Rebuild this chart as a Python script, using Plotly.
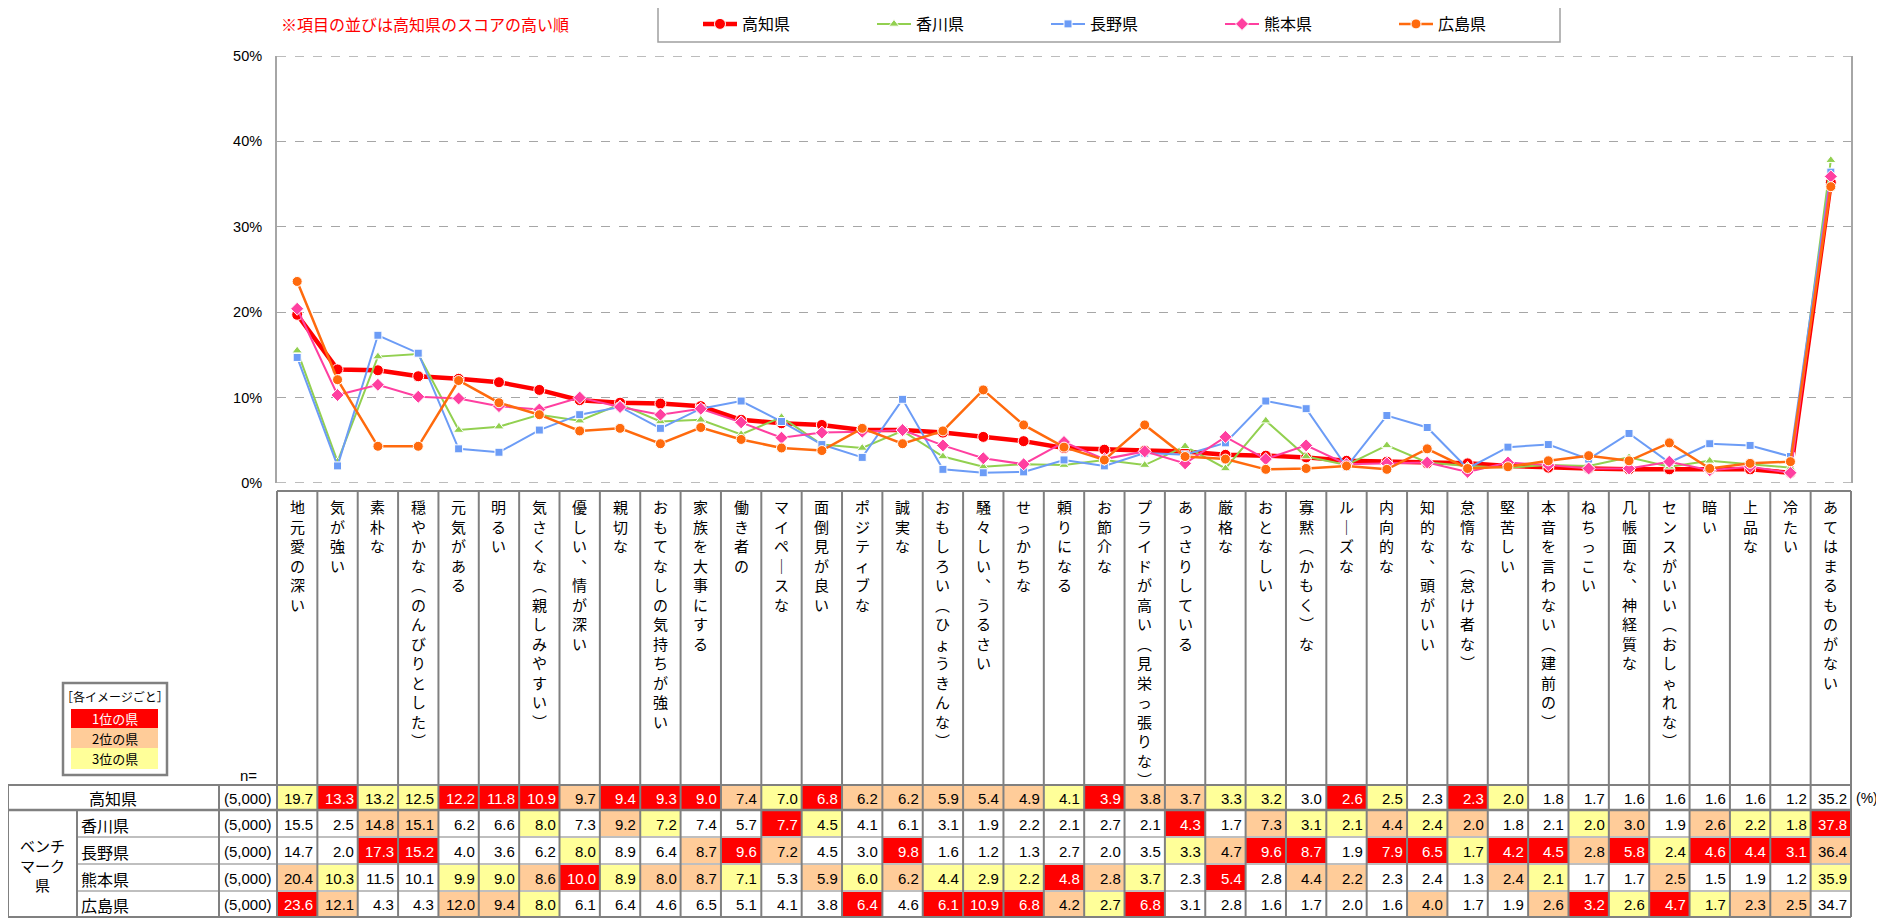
import plotly.graph_objects as go

# ---------------- data ----------------
categories = [
    "地元愛の深い", "気が強い", "素朴な", "穏やかな（のんびりとした）", "元気がある", "明るい",
    "気さくな（親しみやすい）", "優しい、情が深い", "親切な", "おもてなしの気持ちが強い",
    "家族を大事にする", "働き者の", "マイペースな", "面倒見が良い", "ポジティブな", "誠実な",
    "おもしろい（ひょうきんな）", "騒々しい、うるさい", "せっかちな", "頼りになる", "お節介な",
    "プライドが高い（見栄っ張りな）", "あっさりしている", "厳格な", "おとなしい", "寡黙（かもく）な",
    "ルーズな", "内向的な", "知的な、頭がいい", "怠惰な（怠け者な）", "堅苦しい",
    "本音を言わない（建前の）", "ねちっこい", "几帳面な、神経質な", "センスがいい（おしゃれな）",
    "暗い", "上品な", "冷たい", "あてはまるものがない",
]

kochi = [19.7, 13.3, 13.2, 12.5, 12.2, 11.8, 10.9, 9.7, 9.4, 9.3, 9.0, 7.4, 7.0, 6.8, 6.2, 6.2, 5.9,
         5.4, 4.9, 4.1, 3.9, 3.8, 3.7, 3.3, 3.2, 3.0, 2.6, 2.5, 2.3, 2.3, 2.0, 1.8, 1.7, 1.6, 1.6,
         1.6, 1.6, 1.2, 35.2]
kagawa = [15.5, 2.5, 14.8, 15.1, 6.2, 6.6, 8.0, 7.3, 9.2, 7.2, 7.4, 5.7, 7.7, 4.5, 4.1, 6.1, 3.1,
          1.9, 2.2, 2.1, 2.7, 2.1, 4.3, 1.7, 7.3, 3.1, 2.1, 4.4, 2.4, 2.0, 1.8, 2.1, 2.0, 3.0, 1.9,
          2.6, 2.2, 1.8, 37.8]
nagano = [14.7, 2.0, 17.3, 15.2, 4.0, 3.6, 6.2, 8.0, 8.9, 6.4, 8.7, 9.6, 7.2, 4.5, 3.0, 9.8, 1.6,
          1.2, 1.3, 2.7, 2.0, 3.5, 3.3, 4.7, 9.6, 8.7, 1.9, 7.9, 6.5, 1.7, 4.2, 4.5, 2.8, 5.8, 2.4,
          4.6, 4.4, 3.1, 36.4]
kumamoto = [20.4, 10.3, 11.5, 10.1, 9.9, 9.0, 8.6, 10.0, 8.9, 8.0, 8.7, 7.1, 5.3, 5.9, 6.0, 6.2, 4.4,
            2.9, 2.2, 4.8, 2.8, 3.7, 2.3, 5.4, 2.8, 4.4, 2.2, 2.3, 2.4, 1.3, 2.4, 2.1, 1.7, 1.7, 2.5,
            1.5, 1.9, 1.2, 35.9]
hiroshima = [23.6, 12.1, 4.3, 4.3, 12.0, 9.4, 8.0, 6.1, 6.4, 4.6, 6.5, 5.1, 4.1, 3.8, 6.4, 4.6, 6.1,
             10.9, 6.8, 4.2, 2.7, 6.8, 3.1, 2.8, 1.6, 1.7, 2.0, 1.6, 4.0, 1.7, 1.9, 2.6, 3.2, 2.6, 4.7,
             1.7, 2.3, 2.5, 34.7]

# rank within each item (1 = 1位, 2 = 2位, 3 = 3位, 0 = none), as highlighted in the table
rank_kochi = [3, 1, 3, 3, 1, 1, 1, 2, 1, 1, 1, 2, 3, 1, 2, 2, 2, 2, 2, 3, 1, 2, 2, 3, 3, 0, 1, 3, 0, 1,
              3, 0, 0, 0, 0, 0, 0, 0, 0]
rank_kagawa = [0, 0, 2, 2, 0, 0, 3, 0, 2, 3, 0, 0, 1, 3, 0, 0, 0, 0, 0, 0, 0, 0, 1, 0, 2, 3, 3, 2, 3, 2,
               0, 0, 3, 2, 0, 2, 3, 3, 1]
rank_nagano = [0, 0, 1, 1, 0, 0, 0, 3, 0, 0, 2, 1, 2, 0, 0, 1, 0, 0, 0, 0, 0, 0, 3, 2, 1, 1, 0, 1, 1, 3,
               1, 1, 2, 1, 3, 1, 1, 1, 2]
rank_kumamoto = [2, 3, 0, 0, 3, 3, 2, 1, 3, 2, 2, 3, 0, 2, 3, 2, 3, 3, 3, 1, 2, 3, 0, 1, 0, 2, 2, 0, 0, 0,
                 2, 3, 0, 0, 2, 0, 0, 0, 3]
rank_hiroshima = [1, 2, 0, 0, 2, 2, 3, 0, 0, 0, 0, 0, 0, 0, 1, 0, 1, 1, 1, 2, 3, 1, 0, 0, 0, 0, 0, 0, 2, 0,
                  0, 2, 1, 3, 1, 3, 2, 2, 0]

series_names = ["高知県", "香川県", "長野県", "熊本県", "広島県"]
sample_sizes = ["(5,000)", "(5,000)", "(5,000)", "(5,000)", "(5,000)"]
y_ticks = [0, 10, 20, 30, 40, 50]
y_tick_text = ["0%", "10%", "20%", "30%", "40%", "50%"]
rank_labels = ["1位の県", "2位の県", "3位の県"]

series_values = [kochi, kagawa, nagano, kumamoto, hiroshima]
series_ranks = [rank_kochi, rank_kagawa, rank_nagano, rank_kumamoto, rank_hiroshima]

# ---------------- layout helpers ----------------
# the page body adds an 8px margin, so the figure is 8px smaller and everything is
# positioned in reference-pixel coordinates converted to paper fractions
OFF = 8
W, H = 1884 - OFF, 923 - OFF
PL, PR, PT, PB = 277, 1851, 56, 483


def px(x):
    return (x - PL) / (PR - PL)


def py(y):
    return (PB - y) / (PB - PT)


JP = "Noto Sans CJK JP"
MIX = "Liberation Sans, Arial, Noto Sans CJK JP"
DARK = "#808080"
LIGHT = "#BFBFBF"
RANK_FILL = {1: "#FF0000", 2: "#FFCC99", 3: "#FFFF99"}

styles = [
    dict(color="#FF0000", width=4.5, symbol="circle", size=11),
    dict(color="#92D050", width=2, symbol="triangle-up", size=9),
    dict(color="#6C9CF6", width=2, symbol="square", size=8),
    dict(color="#FF3FA0", width=2, symbol="diamond", size=10),
    dict(color="#FF6A0D", width=2.5, symbol="circle", size=10),
]

fig = go.Figure()
for name, vals, st in zip(series_names, series_values, styles):
    fig.add_trace(go.Scatter(
        x=categories, y=vals, name=name, mode="lines+markers",
        line=dict(color=st["color"], width=st["width"]),
        marker=dict(symbol=st["symbol"], size=st["size"], color=st["color"],
                    line=dict(color="white", width=1)),
        cliponaxis=False,
    ))

shapes = []
annotations = []

# top and bottom dashed frame lines of the plot
for yv in (y_ticks[0], y_ticks[-1]):
    shapes.append(dict(type="line", xref="paper", yref="y", x0=0, x1=1, y0=yv, y1=yv, layer="below",
                       line=dict(color="#A6A6A6", width=1.5, dash="dash")))

# note text
annotations.append(dict(xref="paper", yref="paper", x=px(279), y=py(24), xanchor="left", yanchor="middle",
                        text="※項目の並びは高知県のスコアの高い順", showarrow=False,
                        font=dict(family=JP, size=16, color="#FF0000")))
# legend frame
shapes.append(dict(type="rect", xref="paper", yref="paper", x0=px(658), x1=px(1560), y0=py(6), y1=py(42),
                   line=dict(color="#A0A0A0", width=1.5)))

# vertical category labels
VMAP = {"（": "︵", "）": "︶", "、": "︑", "ー": "｜"}


def vert(s):
    return "<br>".join(VMAP.get(c, c) for c in s)


for i, c in enumerate(categories):
    annotations.append(dict(xref="x", yref="paper", x=i, y=py(494), xanchor="center", yanchor="top",
                            text=vert(c), showarrow=False,
                            font=dict(family=JP, size=15, color="#000000")))

# table geometry (pixel rows)
row_bounds = [785, 810, 837, 864, 891, 917]
LABEL_TOP = 491

# colored cells
for r, ranks in enumerate(series_ranks):
    for i, rk in enumerate(ranks):
        if rk:
            shapes.append(dict(type="rect", xref="x", yref="paper", x0=i - 0.5, x1=i + 0.5,
                               y0=py(row_bounds[r]), y1=py(row_bounds[r + 1]),
                               fillcolor=RANK_FILL[rk], line=dict(width=0)))

# cell values
for r, (vals, ranks) in enumerate(zip(series_values, series_ranks)):
    yc = py((row_bounds[r] + row_bounds[r + 1]) / 2 + 0.5)
    for i, v in enumerate(vals):
        annotations.append(dict(xref="x", yref="paper", x=i + 0.5, y=yc, xanchor="right", yanchor="middle",
                                xshift=-2, text=f"{v:.1f}", showarrow=False,
                                font=dict(family=MIX, size=15,
                                          color="#FFFFFF" if ranks[i] == 1 else "#000000")))

# lines: horizontal
shapes.append(dict(type="line", xref="paper", yref="paper", x0=0, x1=1, y0=py(LABEL_TOP), y1=py(LABEL_TOP),
                   line=dict(color=DARK, width=2)))
shapes.append(dict(type="line", xref="paper", yref="paper", x0=px(8), x1=1, y0=py(785), y1=py(785),
                   line=dict(color=DARK, width=2)))
shapes.append(dict(type="line", xref="paper", yref="paper", x0=px(8), x1=1, y0=py(810), y1=py(810),
                   line=dict(color=DARK, width=2.5)))
for yb in row_bounds[2:5]:
    shapes.append(dict(type="line", xref="paper", yref="paper", x0=px(77), x1=1, y0=py(yb), y1=py(yb),
                       line=dict(color=LIGHT, width=2)))
shapes.append(dict(type="line", xref="paper", yref="paper", x0=px(8), x1=1, y0=py(917), y1=py(917),
                   line=dict(color=DARK, width=2)))
# lines: vertical in the data columns
for i in range(1, len(categories)):
    shapes.append(dict(type="line", xref="x", yref="paper", x0=i - 0.5, x1=i - 0.5,
                       y0=py(LABEL_TOP), y1=py(917), line=dict(color=DARK, width=2)))
for xe in (0, 1):
    shapes.append(dict(type="line", xref="paper", yref="paper", x0=xe, x1=xe,
                       y0=py(LABEL_TOP), y1=py(917), line=dict(color=DARK, width=2)))
# lines: vertical in the left part
shapes.append(dict(type="line", xref="paper", yref="paper", x0=px(8), x1=px(8), y0=py(785), y1=py(917),
                   line=dict(color=DARK, width=2)))
shapes.append(dict(type="line", xref="paper", yref="paper", x0=px(219), x1=px(219), y0=py(785), y1=py(917),
                   line=dict(color=DARK, width=2)))
shapes.append(dict(type="line", xref="paper", yref="paper", x0=px(77), x1=px(77), y0=py(810), y1=py(917),
                   line=dict(color=DARK, width=2)))

# left labels
annotations.append(dict(xref="paper", yref="paper", x=px(113), y=py(798), text=series_names[0],
                        showarrow=False, xanchor="center", yanchor="middle",
                        font=dict(family=JP, size=16, color="#000")))
annotations.append(dict(xref="paper", yref="paper", x=px(42), y=py(865), text="ベンチ<br>マーク<br>県",
                        showarrow=False, xanchor="center", yanchor="middle",
                        font=dict(family=JP, size=15, color="#000")))
for r in range(1, 5):
    annotations.append(dict(xref="paper", yref="paper", x=px(79), y=py((row_bounds[r] + row_bounds[r + 1]) / 2 + 1),
                            text=series_names[r], showarrow=False, xanchor="left", yanchor="middle",
                            font=dict(family=JP, size=16, color="#000")))
for r in range(5):
    annotations.append(dict(xref="paper", yref="paper", x=px(248), y=py((row_bounds[r] + row_bounds[r + 1]) / 2 + 0.5),
                            text=sample_sizes[r], showarrow=False, xanchor="center", yanchor="middle",
                            font=dict(family=MIX, size=15, color="#000")))
annotations.append(dict(xref="paper", yref="paper", x=px(248), y=py(775), text="n=",
                        showarrow=False, xanchor="center", yanchor="middle",
                        font=dict(family=MIX, size=15, color="#000")))
annotations.append(dict(xref="paper", yref="paper", x=px(1854), y=py(798), text="(%)",
                        showarrow=False, xanchor="left", yanchor="middle",
                        font=dict(family=MIX, size=14, color="#000")))

# rank legend box
shapes.append(dict(type="rect", xref="paper", yref="paper", x0=px(63), x1=px(167), y0=py(683), y1=py(775),
                   line=dict(color=DARK, width=2.5)))
annotations.append(dict(xref="paper", yref="paper", x=px(115), y=py(696), text="［各イメージごと］",
                        showarrow=False, xanchor="center", yanchor="middle",
                        font=dict(family=JP, size=12, color="#000")))
bands = [(709, 728), (728, 748), (748, 769)]
for k, (y0, y1) in enumerate(bands):
    shapes.append(dict(type="rect", xref="paper", yref="paper", x0=px(71), x1=px(158), y0=py(y0), y1=py(y1),
                       fillcolor=RANK_FILL[k + 1], line=dict(width=0)))
    annotations.append(dict(xref="paper", yref="paper", x=px(115), y=py((y0 + y1) / 2), text=rank_labels[k],
                            showarrow=False, xanchor="center", yanchor="middle",
                            font=dict(family=JP, size=13, color="#FFFFFF" if k == 0 else "#000")))

fig.update_layout(
    width=W, height=H,
    margin=dict(l=PL - OFF, r=W - (PR - OFF), t=PT - OFF, b=H - (PB - OFF), autoexpand=False),
    paper_bgcolor="white", plot_bgcolor="white",
    showlegend=True,
    legend=dict(orientation="h", x=px(698), xanchor="left", y=py(24), yanchor="middle",
                entrywidth=125, entrywidthmode="pixels", itemwidth=34,
                font=dict(family=JP, size=16, color="#000"), bgcolor="rgba(0,0,0,0)",
                borderwidth=0),
    xaxis=dict(type="category", range=[-0.5, len(categories) - 0.5], showgrid=False, showticklabels=False,
               zeroline=False, showline=False, ticks="", fixedrange=True),
    yaxis=dict(range=[0, 50], tickvals=y_ticks, ticktext=y_tick_text, showgrid=True, gridcolor="#A6A6A6",
               griddash="dash", gridwidth=1, showline=True, mirror=True, linecolor="#A6A6A6", linewidth=2,
               zeroline=False, ticks="", ticklabelstandoff=10,
               tickfont=dict(family=MIX, size=14.5, color="#000"), fixedrange=True),
    shapes=shapes,
    annotations=annotations,
)

fig.write_html("out.html")
